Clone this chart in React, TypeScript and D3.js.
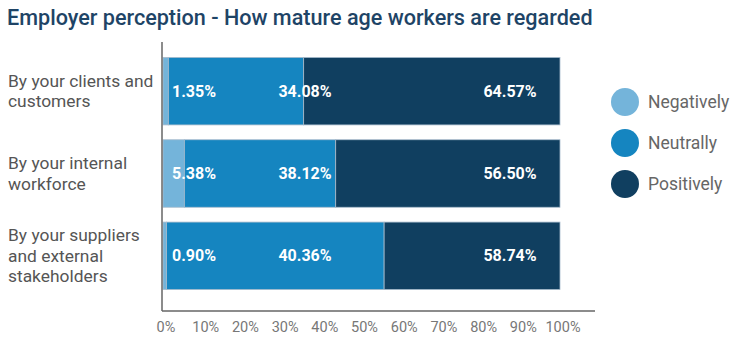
import React from "react";
import * as d3 from "d3";

const categories = [
  ["By your clients and", "customers"],
  ["By your internal", "workforce"],
  ["By your suppliers", "and external", "stakeholders"],
];
const seriesNames = ["Negatively", "Neutrally", "Positively"];
// bar lengths as drawn in the reference picture
const negatively = [1.35, 5.38, 0.9];
const neutrally = [34.08, 38.12, 54.8];
const positively = [64.57, 56.5, 44.3];
// data labels as printed in the reference
const negLabels = ["1.35%", "5.38%", "0.90%"];
const neuLabels = ["34.08%", "38.12%", "40.36%"];
const posLabels = ["64.57%", "56.50%", "58.74%"];
const ticks = [0, 10, 20, 30, 40, 50, 60, 70, 80, 90, 100];
const colors = ["#74b4da", "#1585c0", "#103f60"];
const title = "Employer perception - How mature age workers are regarded";

export default function App() {
  const W = 750, H = 350;
  const x = d3.scaleLinear().domain([0, 100]).range([163, 560]);
  const y = d3.scaleBand().domain(["0", "1", "2"]).range([50, 297]).paddingInner(0.18).paddingOuter(0.09);
  const labels = [negLabels, neuLabels, posLabels];
  const stackData = categories.map((_, i) => ({ n: negatively[i], u: neutrally[i], p: positively[i] }));
  const stacked = d3.stack<any>().keys(["n", "u", "p"])(stackData);
  const labelX = [172, 305, 510];
  const font = "Roboto, 'DejaVu Sans', sans-serif";
  return (
    <svg width={W} height={H} style={{ position: "absolute", left: 0, top: 0, background: "#fff" }}>
      <text x={7} y={25} fontFamily={font} fontWeight={500} fontSize={21.6} fill="#1e4466">{title}</text>
      {categories.map((lines, i) => {
        const cy = (y(String(i)) as number) + y.bandwidth() / 2;
        const lh = 20.5;
        const start = cy - ((lines.length - 1) * lh) / 2;
        return (
          <text key={i} fontFamily={font} fontSize={17.4} fill="#555" >
            {lines.map((l, j) => (
              <tspan key={j} x={8} y={start + j * lh} dominantBaseline="central">{l}</tspan>
            ))}
          </text>
        );
      })}
      {stacked.map((s, k) => (
        <g key={k}>
          {s.map((d, i) => (
            <rect key={i} x={x(d[0])} y={y(String(i))} width={x(d[1]) - x(d[0])} height={y.bandwidth()}
              fill={colors[k]} stroke="#a9bccd" strokeWidth={0.8} />
          ))}
        </g>
      ))}
      {labels.map((vals, k) =>
        vals.map((v, i) => (
          <text key={k + "-" + i} x={labelX[k]} y={(y(String(i)) as number) + y.bandwidth() / 2}
            textAnchor={k === 0 ? "start" : "middle"} dominantBaseline="central"
            fontFamily={font} fontWeight={700} fontSize={16} fill="#fff">
            {v}
          </text>
        ))
      )}
      <line x1={162} x2={162} y1={42} y2={311} stroke="#666" strokeWidth={1.5} />
      <line x1={162} x2={595} y1={311} y2={311} stroke="#666" strokeWidth={1.5} />
      {ticks.map((t) => (
        <text key={t} x={x(t) + 3} y={327} textAnchor="middle" dominantBaseline="central"
          fontFamily={font} fontSize={14.5} fill="#777">{t + "%"}</text>
      ))}
      {seriesNames.map((n, k) => (
        <g key={n}>
          <circle cx={625} cy={102 + k * 41} r={14} fill={colors[k]} />
          <text x={648} y={102 + k * 41} dominantBaseline="central" fontFamily={font} fontSize={17.5} fill="#666">{n}</text>
        </g>
      ))}
    </svg>
  );
}
